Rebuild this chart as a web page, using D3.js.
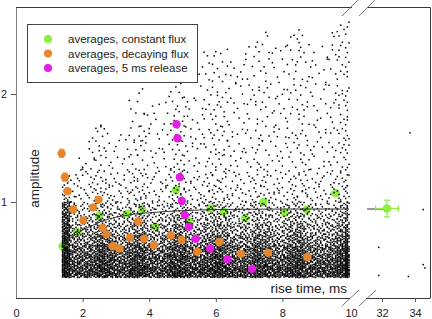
<!DOCTYPE html>
<html>
<head>
<meta charset="utf-8">
<script src="https://cdn.jsdelivr.net/npm/d3@7/dist/d3.min.js"></script>
<style>
  html, body { margin: 0; padding: 0; background: #fff; }
  svg { display: block; font-family: "Liberation Sans", Arial, sans-serif; }
</style>
</head>
<body>
<div id="chart"></div>
<script>
// ── data ──
const greenX  = [1.40, 1.85, 2.49, 3.34, 3.79, 4.19, 4.80, 5.20, 5.84, 6.25, 6.88, 7.43, 8.07, 8.73, 9.60];
const greenY  = [0.59, 0.72, 0.87, 0.89, 0.93, 0.77, 1.11, 0.82, 0.94, 0.91, 0.85, 1.00, 0.90, 0.93, 1.08];
const orangeX = [1.37, 1.47, 1.55, 1.72, 2.02, 2.32, 2.48, 2.60, 2.72, 2.90, 3.10, 3.42, 3.67, 3.85, 4.14, 4.65, 4.97, 5.44, 6.10, 6.75, 7.57, 8.75];
const orangeY = [1.45, 1.23, 1.10, 0.93, 0.83, 0.95, 1.02, 0.76, 0.70, 0.59, 0.57, 0.67, 0.82, 0.66, 0.60, 0.69, 0.65, 0.54, 0.63, 0.52, 0.53, 0.49];
const orangeErr = [0.04, 0.04, 0, 0, 0, 0, 0, 0, 0, 0, 0, 0, 0, 0, 0, 0, 0, 0, 0, 0, 0, 0];
const magentaX = [4.82, 4.85, 4.92, 4.98, 5.07, 5.19, 5.40, 5.83, 6.35, 7.09];
const magentaY = [1.72, 1.59, 1.23, 1.01, 0.88, 0.77, 0.66, 0.57, 0.47, 0.38];

// long-time average (right panel) with x and y errors
const longX = 32.3, longY = 0.94, longXErr = 0.69, longYErr = 0.077;

// fitted curve
const fitX = [1.42, 1.6, 1.8, 2.0, 2.2, 2.5, 2.8, 3.2, 3.6, 4.0, 4.5, 5.0, 6.0, 7.0, 8.0, 10.0];
const fitY = [0.62, 0.66, 0.70, 0.74, 0.77, 0.81, 0.845, 0.87, 0.89, 0.90, 0.912, 0.92, 0.93, 0.933, 0.935, 0.935];
const fitRightX = [31.1, 32.3];
const fitRightY = [0.935, 0.935];

// single events beyond the break
const farX = [31.8, 31.8, 33.6, 33.7, 34.5, 34.5, 34.6];
const farY = [0.58, 0.32, 0.31, 1.64, 0.93, 0.42, 0.39];

// cloud of single events: counts per rise-time bin (0.25 ms, first bin 1.375–1.625)
// and per amplitude band, with the top of the cloud in each bin
const cloudBinStart = 1.375, cloudBinW = 0.25;
const cloudBands = [[0.30, 0.40], [0.40, 0.50], [0.50, 0.60], [0.60, 0.70], [0.70, 0.80],
                    [0.80, 0.90], [0.90, 1.00], [1.00, 1.15], [1.15, 1.30], [1.30, 1.70],
                    [1.70, 2.10], [2.10, 2.50], [2.50, 2.80]];
const cloudTop = [1.25, 1.3, 1.45, 1.6, 1.75, 1.7, 1.6, 1.7, 2.05, 2.05, 1.95, 1.95, 2.0, 2.15, 2.3,
                  2.0, 2.3, 2.4, 2.45, 2.45, 2.3, 2.3, 2.45, 2.5, 2.6, 2.5, 2.45, 2.55, 2.6, 2.5,
                  2.45, 2.45, 2.6, 2.68, 2.7];
const cloudCounts = [
  [60, 40, 38, 40, 50, 48, 40, 38, 45, 50, 40, 38, 40, 50, 50, 40, 40, 45, 50, 48, 40, 40, 40, 48, 45, 38, 38, 45, 50, 40, 38, 38, 40, 50, 45],
  [58, 34, 32, 34, 44, 42, 34, 32, 39, 44, 34, 32, 34, 44, 44, 34, 34, 39, 44, 42, 34, 34, 34, 42, 39, 32, 32, 39, 44, 34, 32, 32, 34, 44, 39],
  [55, 28, 26, 28, 38, 36, 28, 26, 33, 38, 28, 26, 28, 38, 38, 28, 28, 33, 38, 36, 28, 28, 28, 36, 33, 26, 26, 33, 38, 28, 26, 26, 28, 38, 33],
  [50, 20, 18, 20, 28, 26, 20, 18, 24, 28, 20, 18, 20, 28, 28, 20, 20, 24, 28, 26, 20, 20, 20, 26, 24, 18, 18, 24, 28, 20, 18, 18, 20, 28, 24],
  [45, 14, 13, 14, 20, 18, 14, 13, 17, 20, 14, 13, 14, 20, 20, 14, 14, 17, 20, 18, 14, 14, 14, 18, 17, 13, 13, 17, 20, 14, 13, 13, 14, 20, 17],
  [40, 10,  9, 10, 15, 13, 10,  9, 12, 15, 10,  9, 10, 15, 15, 10, 10, 12, 15, 13, 10, 10, 10, 13, 12,  9,  9, 12, 15, 10,  9,  9, 10, 15, 12],
  [32,  7,  6,  7, 10,  9,  7,  6,  9, 10,  7,  6,  7, 10, 10,  7,  7,  9, 10,  9,  7,  7,  7,  9,  9,  6,  6,  9, 10,  7,  6,  6,  7, 10,  9],
  [14,  5,  5,  6,  8,  7,  5,  5,  7,  8,  5,  5,  5,  8,  9,  5,  5,  6,  8,  7,  5,  5,  5,  7,  6,  5,  5,  6,  7,  6,  5,  5,  6,  8,  7],
  [ 5,  4,  4,  5,  6,  5,  4,  4,  5,  6,  4,  4,  4,  6,  7,  4,  4,  5,  6,  5,  4,  4,  4,  5,  5,  4,  4,  5,  5,  5,  4,  4,  5,  6,  5],
  [ 0,  1,  4,  7, 10,  8,  5,  5,  9, 11,  7,  6,  7, 11, 12,  7,  7,  9, 11, 10,  7,  7,  7, 10,  8,  7,  7,  8, 10,  8,  7,  7,  8, 11, 10],
  [ 0,  0,  0,  0,  1,  0,  0,  0,  4,  6,  3,  3,  4,  8,  9,  5,  5,  7,  9,  8,  6,  6,  6,  8,  7,  6,  6,  7,  9,  7,  6,  6,  7, 10,  9],
  [ 0,  0,  0,  0,  0,  0,  0,  0,  0,  0,  0,  0,  0,  2,  3,  1,  3,  5,  7,  6,  4,  4,  5,  7,  6,  5,  5,  6,  8,  6,  5,  5,  6,  9,  8],
  [ 0,  0,  0,  0,  0,  0,  0,  0,  0,  0,  0,  0,  0,  0,  0,  0,  0,  0,  0,  0,  0,  0,  0,  1,  2,  1,  1,  2,  3,  1,  0,  0,  2,  4,  3],
];

const legendLabels = ['averages, constant flux', 'averages, decaying flux', 'averages, 5 ms release'];
const xTicksLeft = [0, 2, 4, 6, 8, 10];
const xTicksRight = [32, 34];
const yTicks = [1, 2];

const GREEN = '#8cef3e', ORANGE = '#e5852c', MAGENTA = '#e41de4';

// ── layout ──
const W = 432, H = 319;
const xL = d3.scaleLinear().domain([0, 10]).range([16, 349]);
const xR = d3.scaleLinear().domain([32, 34]).range([382, 415]);
const y = d3.scaleLinear().domain([1, 2]).range([202, 94]);
const pTop = 7, pBottom = 298, pLeft = 16, pRight = 430;

const svg = d3.select('#chart').append('svg')
  .attr('width', W).attr('height', H);

// frame
const frame = svg.append('g').attr('fill', 'none').attr('stroke-width', 1);
frame.append('path').attr('stroke', '#808080')
  .attr('d', `M${pLeft + 0.5},${pTop}V${pBottom}`);
frame.append('path').attr('stroke', '#3a3a3a')
  .attr('d', `M${pLeft},${pTop + 0.5}H352M367,${pTop + 0.5}H${pRight + 0.5}V${pBottom}`);
frame.append('path').attr('stroke', '#3a3a3a')
  .attr('d', `M${pLeft},${pBottom + 0.5}H350M366,${pBottom + 0.5}H${pRight + 0.5}`);

// break marks
const brk = svg.append('g').attr('stroke', '#666').attr('stroke-width', 0.9);
[[342, 358], [359, 375]].forEach(([a, b]) => {
  brk.append('line').attr('x1', a).attr('y1', 306).attr('x2', b + 1).attr('y2', 290);
  brk.append('line').attr('x1', a).attr('y1', 16).attr('x2', b).attr('y2', 0);
});

// axes
const fmt = d3.format('d');
const gxL = svg.append('g').attr('transform', `translate(0,${pBottom})`)
  .call(d3.axisBottom(xL).tickValues(xTicksLeft).tickFormat(fmt).tickSizeInner(4).tickSizeOuter(0).tickPadding(7.5));
const gxR = svg.append('g').attr('transform', `translate(0,${pBottom})`)
  .call(d3.axisBottom(xR).tickValues(xTicksRight).tickFormat(fmt).tickSizeInner(4).tickSizeOuter(0).tickPadding(7.5));
const gy = svg.append('g').attr('transform', `translate(${pLeft},0)`)
  .call(d3.axisLeft(y).tickValues(yTicks).tickFormat(fmt).tickSizeInner(5).tickSizeOuter(0).tickPadding(4));
[gxL, gxR, gy].forEach(g => {
  g.select('.domain').remove();
  g.selectAll('.tick line').attr('stroke', '#555');
  g.selectAll('.tick text').attr('font-size', 11).attr('fill', '#222')
    .attr('font-family', '"Liberation Sans", Arial, sans-serif');
});
gxL.selectAll('.tick').filter(d => d === 0 || d === 10).select('line').remove();
gxL.selectAll('.tick').filter(d => d === 10).select('text').attr('dx', 2);

// axis titles
svg.append('text')
  .attr('transform', `translate(39,178.5) rotate(-90)`)
  .attr('text-anchor', 'middle').attr('font-size', 13.5).attr('fill', '#222')
  .text('amplitude');
svg.append('text')
  .attr('x', 347).attr('y', 292.5)
  .attr('text-anchor', 'end').attr('font-size', 13.5).attr('fill', '#222')
  .text('rise time, ms');

// green averages sit under the single events
const R = 4.2;
svg.append('g').selectAll('circle')
  .data(greenX.map((x, i) => [x, greenY[i]]))
  .join('circle')
  .attr('cx', d => xL(d[0])).attr('cy', d => y(d[1])).attr('r', R)
  .attr('fill', GREEN);

// single events: each cell's count is spread over the cell with a Halton sequence
function halton(i, b) {
  let f = 1, r = 0;
  while (i > 0) { f /= b; r += f * (i % b); i = Math.floor(i / b); }
  return r;
}
const dots = [];
cloudBands.forEach((band, bi) => {
  cloudCounts[bi].forEach((n, ci) => {
    const x0 = cloudBinStart + ci * cloudBinW;
    const x1 = Math.min(x0 + cloudBinW, 10);
    const hi = Math.min(band[1], cloudTop[ci]);
    if (hi <= band[0]) return;
    const off = 1 + ci * 211 + bi * 1543;
    for (let k = 0; k < n; k++) {
      const u = halton(off + k, 2);
      const v = halton(off + k, 3);
      const xv = Math.round((x0 + u * (x1 - x0)) / 0.05) * 0.05;
      dots.push([Math.max(1.4, Math.min(10, xv)), band[0] + v * (hi - band[0])]);
    }
  });
});
svg.append('g').attr('fill', '#000').selectAll('rect')
  .data(dots)
  .join('rect')
  .attr('x', d => xL(d[0]) - 0.75).attr('y', d => y(d[1]) - 0.75)
  .attr('width', 1.5).attr('height', 1.5);
svg.append('g').attr('fill', '#000').selectAll('rect')
  .data(farX.map((x, i) => [x, farY[i]]))
  .join('rect')
  .attr('x', d => xR(d[0]) - 0.75).attr('y', d => y(d[1]) - 0.75)
  .attr('width', 1.5).attr('height', 1.5);

// fit
const line = d3.line().curve(d3.curveMonotoneX);
svg.append('path')
  .attr('d', line(fitX.map((x, i) => [xL(x), y(fitY[i])])))
  .attr('fill', 'none').attr('stroke', '#333').attr('stroke-width', 1);
svg.append('path')
  .attr('d', line(fitRightX.map((x, i) => [xR(x), y(fitRightY[i])])))
  .attr('fill', 'none').attr('stroke', '#333').attr('stroke-width', 1);

// long-time average with error bars
const lg = svg.append('g').attr('stroke', GREEN).attr('stroke-width', 1.2);
lg.append('line').attr('x1', xR(longX - longXErr)).attr('x2', xR(longX + longXErr))
  .attr('y1', y(longY)).attr('y2', y(longY));
lg.append('line').attr('x1', xR(longX)).attr('x2', xR(longX))
  .attr('y1', y(longY - longYErr)).attr('y2', y(longY + longYErr));
[longX - longXErr, longX + longXErr].forEach(v => lg.append('line')
  .attr('x1', xR(v)).attr('x2', xR(v)).attr('y1', y(longY) - 3).attr('y2', y(longY) + 3));
[longY - longYErr, longY + longYErr].forEach(v => lg.append('line')
  .attr('x1', xR(longX) - 3).attr('x2', xR(longX) + 3).attr('y1', y(v)).attr('y2', y(v)));
svg.append('circle').attr('cx', xR(longX)).attr('cy', y(longY)).attr('r', R).attr('fill', GREEN);

// orange averages with error bars
const og = svg.append('g');
orangeX.forEach((x, i) => {
  const e = orangeErr[i];
  if (!e) return;
  og.append('path')
    .attr('d', `M${xL(x) - 3},${y(orangeY[i] + e)}H${xL(x) + 3}M${xL(x)},${y(orangeY[i] + e)}V${y(orangeY[i] - e)}M${xL(x) - 3},${y(orangeY[i] - e)}H${xL(x) + 3}`)
    .attr('stroke', '#f0b070').attr('stroke-width', 1.2).attr('fill', 'none');
});
og.selectAll('circle')
  .data(orangeX.map((x, i) => [x, orangeY[i]]))
  .join('circle')
  .attr('cx', d => xL(d[0])).attr('cy', d => y(d[1])).attr('r', R)
  .attr('fill', ORANGE);

svg.append('g').selectAll('circle')
  .data(magentaX.map((x, i) => [x, magentaY[i]]))
  .join('circle')
  .attr('cx', d => xL(d[0])).attr('cy', d => y(d[1])).attr('r', R)
  .attr('fill', MAGENTA);

// legend
const leg = svg.append('g');
leg.append('rect').attr('x', 27.5).attr('y', 24.5).attr('width', 170).attr('height', 58)
  .attr('fill', '#fff').attr('stroke', '#444').attr('stroke-width', 1);
[GREEN, ORANGE, MAGENTA].forEach((c, i) => {
  const cy = 39 + i * 14.5;
  leg.append('circle').attr('cx', 48).attr('cy', cy).attr('r', 4).attr('fill', c);
  leg.append('text').attr('x', 68).attr('y', cy + 4.3)
    .attr('font-size', 11.5).attr('fill', '#222').text(legendLabels[i]);
});
</script>
</body>
</html>
